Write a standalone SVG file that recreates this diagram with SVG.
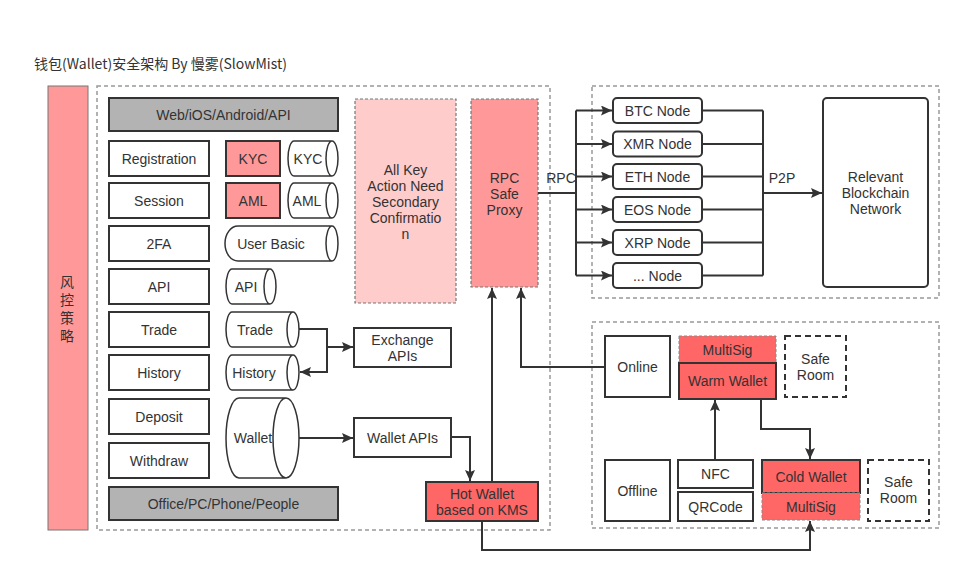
<svg xmlns="http://www.w3.org/2000/svg" width="971" height="582" viewBox="0 0 971 582">
<defs>
<marker id="ah" markerUnits="userSpaceOnUse" markerWidth="12" markerHeight="10" refX="11" refY="5" orient="auto">
<path d="M0,0 L11,5 L0,10 L2,5 Z" fill="#333"/>
</marker>
<style>
text{font-family:"Liberation Sans","Noto Sans CJK SC",sans-serif;font-size:14px;fill:#333;text-anchor:middle;dominant-baseline:central}
.box{fill:#fff;stroke:#333;stroke-width:2}
.gray{fill:#b3b3b3;stroke:#333;stroke-width:2}
.pink{fill:#ff9999;stroke:#333;stroke-width:2}
.red{fill:#ff6666;stroke:#333;stroke-width:2}
.reddash{fill:#ff6666;stroke:#888;stroke-width:1;stroke-dasharray:3 2}
.area{fill:none;stroke:#999;stroke-width:1.5;stroke-dasharray:4 3}
.safe{fill:#fff;stroke:#333;stroke-width:2;stroke-dasharray:6 4}
.cyl{fill:#fff;stroke:#333;stroke-width:1.5}
.node{fill:#fff;stroke:#333;stroke-width:2}
.conn path{fill:none;stroke:#333;stroke-width:2}
</style>
</defs>
<rect width="971" height="582" fill="#fff"/>
<text x="34" y="63" style="text-anchor:start;font-family:'Noto Sans CJK SC',sans-serif;font-size:14px">钱包(Wallet)安全架构 By 慢雾(SlowMist)</text>

<g id="risk">
<rect x="48" y="86" width="40" height="444" fill="#ff9999" stroke="#777" stroke-width="1"/>
<text x="67" y="282">风</text>
<text x="67" y="300">控</text>
<text x="67" y="318">策</text>
<text x="67" y="336">略</text>
</g>

<g id="areas">
<rect class="area" x="97" y="86" width="453" height="444"/>
<rect class="area" x="592" y="86" width="347" height="212"/>
<rect class="area" x="592" y="322" width="347" height="206"/>
</g>

<g id="web"><rect class="gray" x="109" y="98" width="229" height="33"/><text x="223.5" y="115">Web/iOS/Android/API</text></g>
<g id="office"><rect class="gray" x="109" y="487" width="229" height="33"/><text x="223.5" y="504">Office/PC/Phone/People</text></g>

<g id="registration"><rect class="box" x="109" y="141" width="100" height="35"/><text x="159" y="158.5">Registration</text></g>
<g id="session"><rect class="box" x="109" y="183" width="100" height="35"/><text x="159" y="200.5">Session</text></g>
<g id="twofa"><rect class="box" x="109" y="226" width="100" height="35"/><text x="159" y="243.5">2FA</text></g>
<g id="api"><rect class="box" x="109" y="269" width="100" height="35"/><text x="159" y="286.5">API</text></g>
<g id="trade"><rect class="box" x="109" y="312" width="100" height="35"/><text x="159" y="329.5">Trade</text></g>
<g id="history"><rect class="box" x="109" y="355" width="100" height="35"/><text x="159" y="372.5">History</text></g>
<g id="deposit"><rect class="box" x="109" y="399" width="100" height="35"/><text x="159" y="416.5">Deposit</text></g>
<g id="withdraw"><rect class="box" x="109" y="443" width="100" height="35"/><text x="159" y="460.5">Withdraw</text></g>

<g id="kyc"><rect class="pink" x="226" y="141" width="54" height="35"/><text x="253" y="158.5">KYC</text></g>
<g id="aml"><rect class="pink" x="226" y="183" width="54" height="35"/><text x="253" y="200.5">AML</text></g>

<g id="kyc-db">
<path class="cyl" d="M294,141 H332 A6 17.5 0 0 1 332,176 H294 A6 17.5 0 0 1 294,141 Z M332,141 A6 17.5 0 0 0 332,176"/>
<text x="308" y="158.5">KYC</text></g>
<g id="aml-db">
<path class="cyl" d="M294,183 H332 A6 17.5 0 0 1 332,218 H294 A6 17.5 0 0 1 294,183 Z M332,183 A6 17.5 0 0 0 332,218"/>
<text x="307" y="200.5">AML</text></g>
<g id="userbasic-db">
<path class="cyl" d="M238,226 H332 A6 17.5 0 0 1 332,261 H238 A13 17.5 0 0 1 238,226 Z M332,226 A6 17.5 0 0 0 332,261"/>
<text x="271" y="243.5">User Basic</text></g>
<g id="api-db">
<path class="cyl" d="M232,269 H270 A6 17.5 0 0 1 270,304 H232 A6 17.5 0 0 1 232,269 Z M270,269 A6 17.5 0 0 0 270,304"/>
<text x="246" y="286.5">API</text></g>
<g id="trade-db">
<path class="cyl" d="M232,312 H293 A6 17.5 0 0 1 293,347 H232 A6 17.5 0 0 1 232,312 Z M293,312 A6 17.5 0 0 0 293,347"/>
<text x="255" y="329.5">Trade</text></g>
<g id="history-db">
<path class="cyl" d="M232,355 H293 A6 17.5 0 0 1 293,390 H232 A6 17.5 0 0 1 232,355 Z M293,355 A6 17.5 0 0 0 293,390"/>
<text x="254" y="372.5">History</text></g>
<g id="wallet-db">
<path class="cyl" d="M239,398 H286 A13 40 0 0 1 286,478 H239 A13 40 0 0 1 239,398 Z M286,398 A13 40 0 0 0 286,478"/>
<text x="253" y="438">Wallet</text></g>

<g id="exchange-apis"><rect class="box" x="354" y="328" width="97" height="39"/><text x="402.5" y="339.5">Exchange</text><text x="402.5" y="355.5">APIs</text></g>
<g id="wallet-apis"><rect class="box" x="354" y="418" width="97" height="39"/><text x="402.5" y="437.5">Wallet APIs</text></g>
<g id="hot-wallet"><rect class="red" x="426" y="482" width="112" height="39"/><text x="482" y="493.5">Hot Wallet</text><text x="482" y="509.5">based on KMS</text></g>

<g id="confirm"><rect x="355" y="99" width="101" height="204" fill="#ffcccc" stroke="#777" stroke-width="1.2" stroke-dasharray="3 2"/>
<text x="405.5" y="170">All Key</text><text x="405.5" y="186">Action Need</text><text x="405.5" y="202">Secondary</text><text x="405.5" y="218">Confirmatio</text><text x="405.5" y="234">n</text></g>
<g id="rpc-proxy"><rect x="471" y="99" width="67" height="188" fill="#ff9999" stroke="#777" stroke-width="1.2" stroke-dasharray="3 2"/>
<text x="504.5" y="178">RPC</text><text x="504.5" y="194">Safe</text><text x="504.5" y="210">Proxy</text></g>

<g id="btc"><rect class="node" x="613" y="98" width="89" height="25" rx="4"/><text x="657.5" y="110.5">BTC Node</text></g>
<g id="xmr"><rect class="node" x="613" y="131.5" width="89" height="25" rx="4"/><text x="657.5" y="144">XMR Node</text></g>
<g id="eth"><rect class="node" x="613" y="164" width="89" height="25" rx="4"/><text x="657.5" y="176.5">ETH Node</text></g>
<g id="eos"><rect class="node" x="613" y="197" width="89" height="25" rx="4"/><text x="657.5" y="209.5">EOS Node</text></g>
<g id="xrp"><rect class="node" x="613" y="230" width="89" height="25" rx="4"/><text x="657.5" y="242.5">XRP Node</text></g>
<g id="other"><rect class="node" x="613" y="263" width="89" height="25" rx="4"/><text x="657.5" y="275.5">... Node</text></g>
<g id="network"><rect class="node" x="823" y="98" width="105" height="189" rx="4"/>
<text x="875.5" y="177">Relevant</text><text x="875.5" y="193">Blockchain</text><text x="875.5" y="209">Network</text></g>

<g id="online"><rect class="box" x="605" y="336" width="65" height="61"/><text x="637.5" y="366.5">Online</text></g>
<g id="offline"><rect class="box" x="605" y="460" width="65" height="61"/><text x="637.5" y="490.5">Offline</text></g>
<g id="warm-multisig"><rect class="reddash" x="679" y="336" width="97" height="27"/><text x="727.5" y="349.5">MultiSig</text></g>
<g id="warm-wallet"><rect class="red" x="679" y="363" width="97" height="36"/><text x="727.5" y="381">Warm Wallet</text></g>
<g id="safe1"><rect class="safe" x="785" y="336" width="61" height="61"/><text x="815.5" y="359">Safe</text><text x="815.5" y="375">Room</text></g>
<g id="nfc"><rect class="box" x="678" y="460" width="75" height="28"/><text x="715.5" y="474">NFC</text></g>
<g id="qrcode"><rect class="box" x="678" y="492" width="75" height="29"/><text x="715.5" y="506.5">QRCode</text></g>
<g id="cold-wallet"><rect class="red" x="762" y="460" width="98" height="33"/><text x="811" y="476.5">Cold Wallet</text></g>
<g id="cold-multisig"><rect class="reddash" x="762" y="493" width="98" height="27"/><text x="811" y="506.5">MultiSig</text></g>
<g id="safe2"><rect class="safe" x="868" y="460" width="61" height="61"/><text x="898.5" y="482">Safe</text><text x="898.5" y="498">Room</text></g>

<g id="connectors" class="conn">
<path d="M299,329 H327 V372 H300" marker-end="url(#ah)"/>
<path d="M327,347 H353" marker-end="url(#ah)"/>
<path d="M299,438 H353" marker-end="url(#ah)"/>
<path d="M451,437 H470 V481" marker-end="url(#ah)"/>
<path d="M492,482 V288" marker-end="url(#ah)"/>
<path d="M605,367 H521 V288" marker-end="url(#ah)"/>
<path d="M482,521 V550 H810 V521" marker-end="url(#ah)"/>
<path d="M538,193 H576"/>
<path d="M576,110.5 V275.5"/>
<path d="M576,110.5 H612" marker-end="url(#ah)"/>
<path d="M576,144 H612" marker-end="url(#ah)"/>
<path d="M576,176.5 H612" marker-end="url(#ah)"/>
<path d="M576,209.5 H612" marker-end="url(#ah)"/>
<path d="M576,242.5 H612" marker-end="url(#ah)"/>
<path d="M576,275.5 H612" marker-end="url(#ah)"/>
<path d="M702,110.5 H763 M702,144 H763 M702,176.5 H763 M702,209.5 H763 M702,242.5 H763 M702,275.5 H763 M763,110.5 V275.5"/>
<path d="M763,193 H822" marker-end="url(#ah)"/>
<path d="M715,460 V400" marker-end="url(#ah)"/>
<path d="M761,399 V429 H810 V459" marker-end="url(#ah)"/>
<text x="561" y="178">RPC</text>
<text x="782" y="178">P2P</text>
</g>
</svg>
